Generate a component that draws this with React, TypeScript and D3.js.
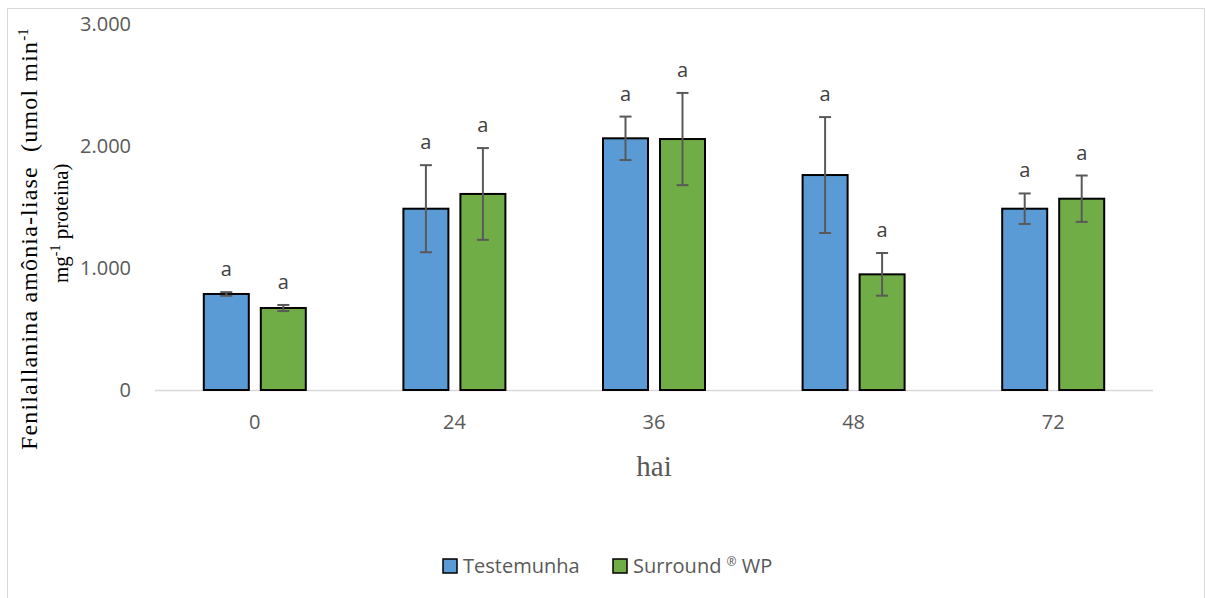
import React from "react";
import * as d3 from "d3";

const categories = ["0", "24", "36", "48", "72"];
const seriesNames = ["Testemunha", "Surround ® WP"];
const testemunha = [787, 1486, 2063, 1762, 1486];
const testemunhaErr = [15, 357, 178, 475, 125];
const surround = [672, 1607, 2057, 948, 1568];
const surroundErr = [25, 376, 378, 175, 190];
const letters = [["a", "a"], ["a", "a"], ["a", "a"], ["a", "a"], ["a", "a"]];
const yTicks = [0, 1000, 2000, 3000];
const colors = ["#5b9bd5", "#70ad47"];

const W = 1206;
const H = 598;
const plotLeft = 155;
const plotRight = 1153;
const plotTop = 24;
const plotBottom = 390;

const fmt = (v: number) => (v === 0 ? "0" : d3.format(",.3f")(v / 1000).replace(",", "."));

export default function App() {
  const x = d3.scaleBand<string>().domain(categories).range([plotLeft, plotRight]).paddingInner(0).paddingOuter(0);
  const y = d3.scaleLinear().domain([0, 3000]).range([plotBottom, plotTop]);
  const barW = 45;
  const gap = 12;
  const series = [
    { vals: testemunha, errs: testemunhaErr },
    { vals: surround, errs: surroundErr },
  ];
  const font = "'Open Sans', sans-serif";
  const serif = "'Liberation Serif', 'Times New Roman', serif";
  return (
    <svg width={W} height={H} style={{ position: "absolute", left: 0, top: 0, background: "#fff" }}>
      <rect x={7.5} y={8.5} width={1197} height={H} fill="#fff" stroke="#d9d9d9" strokeWidth={1} />
      {yTicks.map((t) => (
        <text key={t} x={131} y={y(t) + 7} textAnchor="end" fontFamily={font} fontSize={20} fill="#595959">
          {fmt(t)}
        </text>
      ))}
      <line x1={plotLeft} x2={plotRight} y1={plotBottom + 0.5} y2={plotBottom + 0.5} stroke="#d9d9d9" strokeWidth={1.5} />
      {categories.map((c, i) => {
        const cx = (x(c) as number) + x.bandwidth() / 2;
        return (
          <g key={c}>
            {series.map((s, j) => {
              const bx = j === 0 ? cx - gap / 2 - barW : cx + gap / 2;
              const bc = bx + barW / 2;
              const v = s.vals[i];
              const e = s.errs[i];
              const yt = y(v + e);
              const yb = y(v - e);
              return (
                <g key={j}>
                  <rect x={bx} y={y(v)} width={barW} height={plotBottom - y(v)} fill={colors[j]} stroke="#000" strokeWidth={2} />
                  <line x1={bc} x2={bc} y1={yt} y2={yb} stroke="#595959" strokeWidth={2} />
                  <line x1={bc - 6} x2={bc + 6} y1={yt} y2={yt} stroke="#595959" strokeWidth={2} />
                  <line x1={bc - 6} x2={bc + 6} y1={yb} y2={yb} stroke="#595959" strokeWidth={2} />
                  <text x={bc} y={yt - 16} textAnchor="middle" fontFamily={font} fontSize={20} fill="#404040">
                    {letters[i][j]}
                  </text>
                </g>
              );
            })}
            <text x={cx} y={429} textAnchor="middle" fontFamily={font} fontSize={20} fill="#595959">
              {c}
            </text>
          </g>
        );
      })}
      <text x={654} y={476} textAnchor="middle" fontFamily={serif} fontSize={29} fill="#595959">
        hai
      </text>
      <g transform="translate(37,450) rotate(-90)">
        <text x={0} y={0} fontFamily={serif} fontSize={24} fill="#000" style={{ whiteSpace: "pre" }}>
          <tspan textLength={408} lengthAdjust="spacing">{"Fenilallanina amônia-liase  (umol min"}</tspan>
          <tspan fontSize={15} dy={-9}>-1</tspan>
        </text>
      </g>
      <g transform="translate(68,283) rotate(-90)">
        <text x={0} y={0} fontFamily={serif} fontSize={21} fill="#000" style={{ whiteSpace: "pre" }}>
          mg
          <tspan fontSize={14} dy={-8}>-1</tspan>
          <tspan dy={8}>{" proteina)"}</tspan>
        </text>
      </g>
      {seriesNames.map((n, j) => {
        const lx = j === 0 ? 443 : 613;
        return (
          <g key={n}>
            <rect x={lx} y={559} width={14} height={14} fill={colors[j]} stroke="#000" strokeWidth={1.5} />
            <text x={lx + 20} y={573} fontFamily={font} fontSize={20} fill="#595959" style={{ whiteSpace: "pre" }}>
              {j === 0 ? n : (
                <>
                  {"Surround "}
                  <tspan fontSize={12} dy={-7}>®</tspan>
                  <tspan dy={7}>{" WP"}</tspan>
                </>
              )}
            </text>
          </g>
        );
      })}
    </svg>
  );
}
